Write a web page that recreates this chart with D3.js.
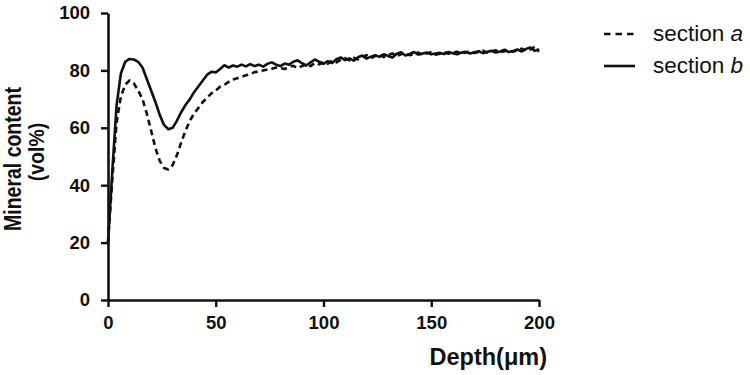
<!DOCTYPE html>
<html>
<head>
<meta charset="utf-8">
<script src="https://cdn.jsdelivr.net/npm/d3@7"></script>
<style>
  body { margin: 0; background: #fff; }
  text { font-family: "Liberation Sans", Arial, sans-serif; fill: #111; }
</style>
</head>
<body>
<div id="chart"></div>
<script>
// depth in um, every 2 um
const depth = d3.range(0, 201, 2);

const sectionA = [
  20, 42, 62, 71, 75, 76.5, 75.5, 73, 70, 65,
  59, 53, 48.5, 46, 45.5, 47, 50.5, 55, 59, 62.5,
  65, 67, 69, 70.5, 72, 73, 74.3, 75, 76, 76.8,
  77.3, 77.8, 78.3, 78.7, 79.4, 79.6, 80, 80.3, 80.6, 81,
  80.8, 80.5, 81.2, 81.6, 80.8, 81.5, 82, 81.5, 82.6, 82.1,
  82.8, 82.3, 83.4, 82.8, 83.7, 84.3, 83.5, 84.4, 83.8, 84.7,
  85.3, 84.3, 85, 85.6, 84.6, 85.4, 85.9, 85, 85.6, 86.1,
  85.3, 85.8, 86.2, 85.4, 86, 86.3, 85.5, 85.8, 86.4, 85.8,
  86.3, 86.5, 85.8, 86.2, 86.6, 86.1, 86.4, 86.9, 86.2, 86.6,
  87, 86.3, 86.7, 87.1, 86.5, 87, 87.6, 86.8, 87.3, 88.2,
  86.5
];

const sectionB = [
  20, 45, 68, 79, 83, 84, 83.8, 83, 81, 77,
  73, 69, 64.5, 61, 59.5, 60, 62.5, 65.5, 68, 70,
  72.5, 74.5, 76.5, 78.5, 79.5, 79.3, 80.5, 81.8, 81, 81.7,
  81.3, 82, 81.4, 82.2, 81.5, 82, 81.3, 82.3, 82.8, 82,
  81.5, 82.4, 82, 83, 83.5, 82.5, 81.7, 82.8, 83.8, 83,
  82.3, 83.2, 82.6, 83.9, 84.5, 83.6, 84.2, 83.4, 84.6, 85.2,
  84.1, 84.8, 85.3, 84.7, 85.6, 85, 84.5, 85.8, 86.3, 85.2,
  85.7, 86.4, 85.5, 85.9, 86.2, 85.6, 85.9, 86.1, 85.7, 86.4,
  86, 85.6, 86.2, 86.5, 85.9, 86.3, 86.7, 86, 86.5, 86.8,
  86.2, 86.6, 87.2, 86.4, 86.8, 87.3, 86.6, 87.5, 88, 86.8,
  87.4
];

const xTicks = [0, 50, 100, 150, 200];
const yTicks = [0, 20, 40, 60, 80, 100];
const series = [
  { name: "section ", italic: "a", values: sectionA, dash: "6,4" },
  { name: "section ", italic: "b", values: sectionB, dash: null }
];

const width = 750, height = 375;
const x = d3.scaleLinear().domain([0, 200]).range([108, 539]);
const y = d3.scaleLinear().domain([0, 100]).range([300, 13]);

const svg = d3.select("#chart").append("svg")
  .attr("width", width)
  .attr("height", height);

const line = d3.line()
  .x((d, i) => x(depth[i]))
  .y(d => y(d));

svg.append("g")
  .selectAll("path")
  .data(series)
  .join("path")
  .attr("fill", "none")
  .attr("stroke", "#111")
  .attr("stroke-width", 2.6)
  .attr("stroke-linejoin", "round")
  .attr("stroke-dasharray", d => d.dash)
  .attr("d", d => line(d.values));

// axes
const xAxis = svg.append("g")
  .attr("transform", `translate(0,${y(0)})`)
  .call(d3.axisBottom(x).tickValues(xTicks).tickSize(7).tickSizeOuter(0).tickPadding(11));

const yAxis = svg.append("g")
  .attr("transform", `translate(${x(0)},0)`)
  .call(d3.axisLeft(y).tickValues(yTicks).tickSize(7).tickSizeOuter(0).tickPadding(11));

[xAxis, yAxis].forEach(g => {
  g.select(".domain").attr("stroke", "#111").attr("stroke-width", 2.6);
  g.selectAll(".tick line").attr("stroke", "#111").attr("stroke-width", 2.4);
  g.selectAll(".tick text")
    .attr("font-family", "Liberation Sans, Arial, sans-serif")
    .attr("font-size", 18.5)
    .attr("font-weight", "bold")
    .attr("fill", "#111");
});
xAxis.selectAll(".tick text").attr("dy", "0.6em");

svg.append("text")
  .attr("x", 547)
  .attr("y", 365)
  .attr("text-anchor", "end")
  .attr("font-size", 23.5)
  .attr("font-weight", "bold")
  .text("Depth(μm)");

// y title, glyphs a little taller as in the original
svg.append("text")
  .attr("transform", "translate(21,159) rotate(-90) scale(1,1.2)")
  .attr("text-anchor", "middle")
  .attr("font-size", 19.5)
  .attr("font-weight", "bold")
  .text("Mineral content");

svg.append("text")
  .attr("transform", "translate(44,152) rotate(-90) scale(1,1.1)")
  .attr("text-anchor", "middle")
  .attr("font-size", 19.5)
  .attr("font-weight", "bold")
  .text("(vol%)");

// legend
const legend = svg.append("g")
  .selectAll("g")
  .data(series)
  .join("g")
  .attr("transform", (d, i) => `translate(604,${34 + i * 32})`);

legend.append("line")
  .attr("x1", 0).attr("x2", 31)
  .attr("stroke", "#111")
  .attr("stroke-width", 2.6)
  .attr("stroke-dasharray", d => d.dash ? "6.5,5" : null);

const lt = legend.append("text")
  .attr("x", 49)
  .attr("y", 7)
  .attr("font-size", 22.5);
lt.append("tspan").text(d => d.name);
lt.append("tspan").attr("font-style", "italic").text(d => d.italic);
</script>
</body>
</html>
